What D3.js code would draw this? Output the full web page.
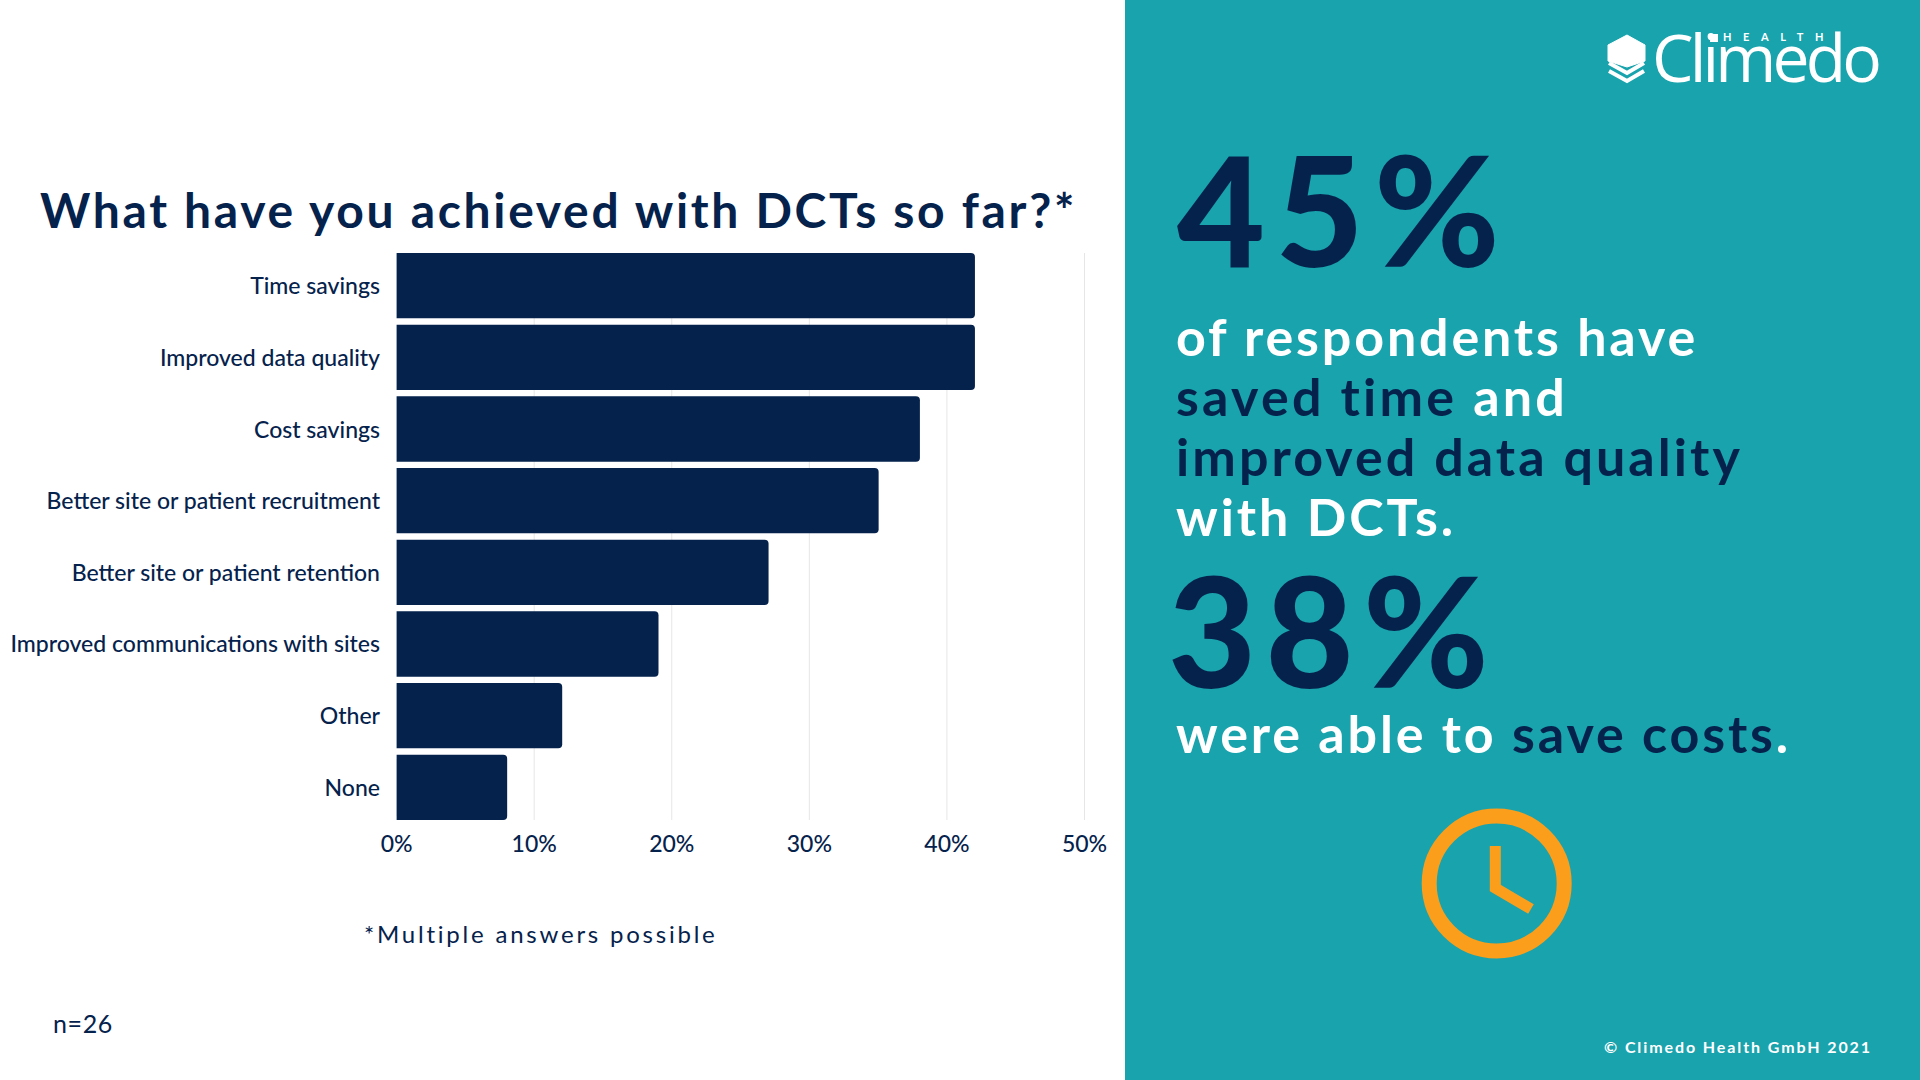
<!DOCTYPE html>
<html><head><meta charset="utf-8">
<script src="https://cdnjs.cloudflare.com/ajax/libs/d3/7.8.5/d3.min.js"></script>
<style>html,body{margin:0;padding:0;background:#fff}svg{display:block}text{font-family:Lato,sans-serif}</style>
</head><body><svg id="c" width="1920" height="1080"></svg>
<script>
const categories=["Time savings","Improved data quality","Cost savings","Better site or patient recruitment","Better site or patient retention","Improved communications with sites","Other","None"];
const values=[42,42,38,35,27,19,12,8];
const xTicks=[0,10,20,30,40,50];
const NAVY="#05224c",TEAL="#19a3ad",ORANGE="#fb9e1b",WHITE="#fff";
const svg=d3.select("#c");
function fit(sel,w){const n=sel.node();const len=n.getComputedTextLength();const c=n.getNumberOfChars();if(w)sel.style("letter-spacing",((w-len)/c)+"px");return sel;}
function label(x,y,size,weight,fill,str,w,family){const s=svg.append("text").attr("x",x).attr("y",y).attr("font-size",size).attr("font-weight",weight).attr("fill",fill).text(str);if(family)s.style("font-family",family);return fit(s,w);}

svg.append("rect").attr("x",1125).attr("y",0).attr("width",795).attr("height",1080).attr("fill",TEAL);

const x=d3.scaleLinear().domain([0,50]).range([396.6,1084.5]);
const y=d3.scaleBand().domain(categories).range([253,820]).paddingInner(0.088).paddingOuter(0);
svg.append("g").selectAll("line").data(xTicks.slice(1)).join("line")
 .attr("x1",d=>x(d)).attr("x2",d=>x(d)).attr("y1",253).attr("y2",820).attr("stroke","#e6e6e6").attr("stroke-width",1);
svg.append("g").selectAll("path").data(categories).join("path").attr("fill",NAVY)
 .attr("d",(c,i)=>{const x0=x(0),x1=x(values[i])+0.5,t=y(c),b=t+y.bandwidth(),r=4;return `M${x0},${t}H${x1-r}Q${x1},${t} ${x1},${t+r}V${b-r}Q${x1},${b} ${x1-r},${b}H${x0}Z`;});
svg.append("g").selectAll("text").data(categories).join("text").attr("x",380).attr("y",c=>y(c)+y.bandwidth()/2+8.5)
 .attr("text-anchor","end").attr("font-size",23).attr("font-weight",500).attr("fill",NAVY).text(c=>c);
svg.append("g").selectAll("text").data(xTicks).join("text").attr("x",d=>x(d)).attr("y",851.5).attr("text-anchor","middle")
 .attr("font-size",23).attr("font-weight",500).attr("fill",NAVY).text(d=>d+"%");

label(40,228,48,700,NAVY,"What have you achieved with DCTs so far?*",1037);
label(364,943,24,400,NAVY,"*Multiple answers possible",354);
label(53,1033,25,400,NAVY,"n=26",60);

// right panel
label(1177,267,152,900,NAVY,"45%",333);
const rows=[[[ "of respondents have",WHITE]],[["saved time ",NAVY],["and",WHITE]],[["improved data quality",NAVY]],[["with DCTs.",WHITE]]];
const rowW=[522,393,567,280];
rows.forEach((r,i)=>{const t=svg.append("text").attr("x",1176).attr("y",[356,416,476,536][i]).attr("font-size",52).attr("font-weight",700);
 r.forEach(s=>t.append("tspan").attr("fill",s[1]).text(s[0]));fit(t,rowW[i]);});
label(1168,688,152,900,NAVY,"38%",330);
const t5=svg.append("text").attr("x",1176).attr("y",753).attr("font-size",52).attr("font-weight",700);
[["were able to ",WHITE],["save costs",NAVY],[".",WHITE]].forEach(s=>t5.append("tspan").attr("fill",s[1]).text(s[0]));fit(t5,615);
label(1604,1053,16,700,WHITE,"© Climedo Health GmbH 2021",268);

// clock
svg.append("circle").attr("cx",1496.7).attr("cy",883.5).attr("r",67.5).attr("fill","none").attr("stroke",ORANGE).attr("stroke-width",15);
svg.append("path").attr("d","M1495.3,846V888L1531,909").attr("fill","none").attr("stroke",ORANGE).attr("stroke-width",11);

// logo
svg.append("path").attr("fill",WHITE).attr("d","M1627,35L1645,45V61L1627,67L1608,61V45Z").attr("stroke",WHITE).attr("stroke-width",1).attr("stroke-linejoin","round");
svg.append("path").attr("fill","none").attr("stroke",WHITE).attr("stroke-width",4).attr("d","M1609,63L1627,73L1644,63M1609,71L1627,81L1644,71");
label(1652,82,66,500,WHITE,"Climedo",226,"'Open Sans'");
svg.append("rect").attr("x",1710).attr("y",34).attr("width",8).attr("height",8).attr("fill",WHITE);
label(1723,41,11,700,WHITE,"HEALTH",112);
</script></body></html>
